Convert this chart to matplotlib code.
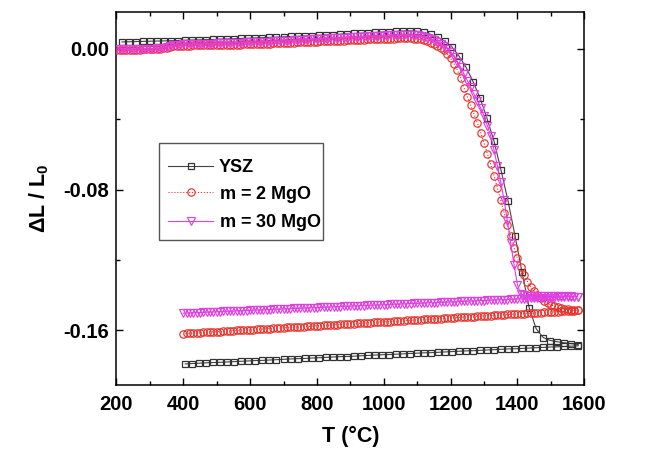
import numpy as np
import matplotlib
matplotlib.use("Agg")
import matplotlib.pyplot as plt
from matplotlib.patches import Rectangle
from matplotlib.ticker import MultipleLocator, FormatStrFormatter

plt.rcParams["font.family"] = ["Liberation Sans", "DejaVu Sans"]
plt.rcParams["font.weight"] = "bold"
plt.rcParams["mathtext.fontset"] = "custom"
plt.rcParams["mathtext.rm"] = "Liberation Sans:bold"
plt.rcParams["mathtext.bf"] = "Liberation Sans:bold"
plt.rcParams["mathtext.it"] = "Liberation Sans:bold:italic"
plt.rcParams["mathtext.default"] = "rm"

# ---------------- dilatometry data ----------------
series_labels = ["YSZ", r"$m$ = 2 MgO", r"$m$ = 30 MgO"]

# YSZ: one reading every 21 degC, heating to 1582 degC then cooling back
ysz_T_heat = np.arange(217, 1583, 21)
ysz_heat = [
    0.0040, 0.0041, 0.0042, 0.0043, 0.0044, 0.0045, 0.0046, 0.0047, 0.0048, 0.0050,
    0.0051, 0.0052, 0.0053, 0.0054, 0.0056, 0.0057, 0.0058, 0.0060, 0.0061, 0.0063,
    0.0064, 0.0066, 0.0067, 0.0069, 0.0071, 0.0072, 0.0074, 0.0076, 0.0078, 0.0080,
    0.0082, 0.0084, 0.0086, 0.0088, 0.0090, 0.0092, 0.0094, 0.0096, 0.0098, 0.0100,
    0.0102, 0.0103, 0.0101, 0.0094, 0.0083, 0.0066, 0.0043, 0.0012, -0.0040, -0.0103,
    -0.0185, -0.0278, -0.0395, -0.0525, -0.0690, -0.0865, -0.1065, -0.1270, -0.1470, -0.1590,
    -0.1640, -0.1657, -0.1664, -0.1670, -0.1675, -0.1680,
]
ysz_T_cool = np.arange(1582, 405, -21)
ysz_cool = [
    -0.1687, -0.1689, -0.1691, -0.1693, -0.1694, -0.1696, -0.1698, -0.1700, -0.1702, -0.1704,
    -0.1705, -0.1707, -0.1709, -0.1711, -0.1713, -0.1715, -0.1716, -0.1718, -0.1720, -0.1722,
    -0.1724, -0.1726, -0.1727, -0.1729, -0.1731, -0.1733, -0.1735, -0.1737, -0.1738, -0.1740,
    -0.1742, -0.1744, -0.1746, -0.1748, -0.1749, -0.1751, -0.1753, -0.1755, -0.1757, -0.1759,
    -0.1760, -0.1762, -0.1764, -0.1766, -0.1768, -0.1770, -0.1771, -0.1773, -0.1775, -0.1777,
    -0.1779, -0.1781, -0.1782, -0.1784, -0.1786, -0.1788, -0.1790,
]

# MgO-doped samples: one reading every 10 degC
mgo_T_heat = np.arange(200, 1581, 10)
mgo_T_cool = np.arange(1580, 399, -10)

m2_heat = [
    -0.0005, -0.0005, -0.0005, -0.0005, -0.0004, -0.0004, -0.0004, -0.0004, -0.0003, -0.0003,
    -0.0003, -0.0002, -0.0001, 0.0001, 0.0004, 0.0008, 0.0012, 0.0015, 0.0017, 0.0018,
    0.0019,
    0.0019, 0.0019, 0.0020, 0.0020, 0.0020, 0.0021, 0.0021, 0.0021, 0.0022, 0.0022,
    0.0022, 0.0023, 0.0023, 0.0024, 0.0024, 0.0025, 0.0025, 0.0026, 0.0026, 0.0027,
    0.0028, 0.0028, 0.0029, 0.0030, 0.0030, 0.0031, 0.0032, 0.0032, 0.0033, 0.0034,
    0.0035, 0.0036, 0.0036, 0.0037, 0.0038, 0.0039, 0.0040, 0.0040, 0.0041, 0.0042,
    0.0043, 0.0044, 0.0044, 0.0045, 0.0046, 0.0047, 0.0048, 0.0048, 0.0049, 0.0050,
    0.0051, 0.0052, 0.0052, 0.0053, 0.0054, 0.0055, 0.0056, 0.0056, 0.0057, 0.0058,
    0.0058, 0.0059, 0.0059, 0.0060, 0.0060, 0.0060, 0.0060, 0.0060, 0.0059, 0.0057,
    0.0054, 0.0050, 0.0044, 0.0036, 0.0026, 0.0016, 0.0005, -0.0008, -0.0028, -0.0053,
    -0.0083, -0.0119, -0.0165, -0.0220, -0.0272, -0.0320, -0.0370, -0.0420, -0.0475, -0.0535,
    -0.0595, -0.0655, -0.0720, -0.0790, -0.0860, -0.0930, -0.1000, -0.1065, -0.1130, -0.1190,
    -0.1240, -0.1285, -0.1322, -0.1352, -0.1378, -0.1400, -0.1418, -0.1432, -0.1444, -0.1454,
    -0.1462, -0.1468, -0.1473, -0.1477, -0.1480, -0.1483, -0.1485, -0.1486,
]
m2_cool = [
    -0.1486, -0.1487, -0.1488, -0.1489, -0.1490, -0.1492, -0.1493, -0.1494, -0.1495, -0.1496,
    -0.1497, -0.1498, -0.1499, -0.1501, -0.1502, -0.1503, -0.1504, -0.1505, -0.1506, -0.1507,
    -0.1508, -0.1509, -0.1511, -0.1512, -0.1513, -0.1514, -0.1515, -0.1516, -0.1517, -0.1518,
    -0.1520, -0.1521, -0.1522, -0.1523, -0.1524, -0.1525, -0.1526, -0.1527, -0.1529, -0.1530,
    -0.1531, -0.1532, -0.1533, -0.1534, -0.1535, -0.1536, -0.1537, -0.1539, -0.1540, -0.1541,
    -0.1542, -0.1543, -0.1544, -0.1545, -0.1546, -0.1548, -0.1549, -0.1550, -0.1551, -0.1552,
    -0.1553, -0.1554, -0.1555, -0.1556, -0.1558, -0.1559, -0.1560, -0.1561, -0.1562, -0.1563,
    -0.1564, -0.1565, -0.1567, -0.1568, -0.1569, -0.1570, -0.1571, -0.1572, -0.1573, -0.1574,
    -0.1576, -0.1577, -0.1578, -0.1579, -0.1580, -0.1581, -0.1582, -0.1583, -0.1585, -0.1586,
    -0.1587, -0.1588, -0.1589, -0.1590, -0.1591, -0.1592, -0.1593, -0.1595, -0.1596, -0.1597,
    -0.1598, -0.1599, -0.1600, -0.1601, -0.1602, -0.1604, -0.1605, -0.1606, -0.1607, -0.1608,
    -0.1609, -0.1610, -0.1611, -0.1613, -0.1614, -0.1615, -0.1616, -0.1617, -0.1618,
]

m30_heat = [
    0.0000, 0.0000, 0.0000, 0.0000, 0.0000, 0.0001, 0.0001, 0.0001, 0.0001, 0.0001,
    0.0002, 0.0002, 0.0003, 0.0005, 0.0008, 0.0012, 0.0016, 0.0020, 0.0023, 0.0025,
    0.0027,
    0.0027, 0.0028, 0.0028, 0.0029, 0.0029, 0.0030, 0.0030, 0.0031, 0.0031, 0.0032,
    0.0032, 0.0033, 0.0033, 0.0034, 0.0035, 0.0035, 0.0036, 0.0036, 0.0037, 0.0038,
    0.0039, 0.0039, 0.0040, 0.0041, 0.0042, 0.0042, 0.0043, 0.0044, 0.0045, 0.0046,
    0.0047, 0.0048, 0.0049, 0.0050, 0.0051, 0.0052, 0.0053, 0.0054, 0.0055, 0.0056,
    0.0057, 0.0058, 0.0059, 0.0060, 0.0061, 0.0062, 0.0063, 0.0064, 0.0065, 0.0066,
    0.0067, 0.0068, 0.0069, 0.0070, 0.0071, 0.0072, 0.0073, 0.0074, 0.0075, 0.0076,
    0.0077, 0.0078, 0.0079, 0.0079, 0.0080, 0.0080, 0.0080, 0.0080, 0.0079, 0.0077,
    0.0074, 0.0070, 0.0065, 0.0058, 0.0050, 0.0040, 0.0029, 0.0016, 0.0001, -0.0015,
    -0.0043, -0.0072, -0.0104, -0.0142, -0.0180, -0.0218, -0.0256, -0.0294, -0.0336, -0.0380,
    -0.0435, -0.0495, -0.0575, -0.0665, -0.0755, -0.0860, -0.0980, -0.1105, -0.1230, -0.1340,
    -0.1395, -0.1401, -0.1402, -0.1403, -0.1403, -0.1404, -0.1404, -0.1404, -0.1405, -0.1405,
    -0.1405, -0.1405, -0.1406, -0.1406, -0.1406, -0.1406, -0.1407, -0.1407,
]
m30_cool = [
    -0.1407, -0.1408, -0.1409, -0.1409, -0.1410, -0.1411, -0.1412, -0.1413, -0.1413, -0.1414,
    -0.1415, -0.1416, -0.1417, -0.1417, -0.1418, -0.1419, -0.1420, -0.1421, -0.1421, -0.1422,
    -0.1423, -0.1424, -0.1425, -0.1426, -0.1426, -0.1427, -0.1428, -0.1429, -0.1430, -0.1430,
    -0.1431, -0.1432, -0.1433, -0.1434, -0.1434, -0.1435, -0.1436, -0.1437, -0.1438, -0.1438,
    -0.1439, -0.1440, -0.1441, -0.1442, -0.1442, -0.1443, -0.1444, -0.1445, -0.1446, -0.1446,
    -0.1447, -0.1448, -0.1449, -0.1450, -0.1450, -0.1451, -0.1452, -0.1453, -0.1454, -0.1454,
    -0.1455, -0.1456, -0.1457, -0.1458, -0.1459, -0.1459, -0.1460, -0.1461, -0.1462, -0.1463,
    -0.1463, -0.1464, -0.1465, -0.1466, -0.1467, -0.1467, -0.1468, -0.1469, -0.1470, -0.1471,
    -0.1471, -0.1472, -0.1473, -0.1474, -0.1475, -0.1475, -0.1476, -0.1477, -0.1478, -0.1479,
    -0.1479, -0.1480, -0.1481, -0.1482, -0.1483, -0.1483, -0.1484, -0.1485, -0.1486, -0.1487,
    -0.1487, -0.1488, -0.1489, -0.1490, -0.1491, -0.1491, -0.1492, -0.1493, -0.1494, -0.1495,
    -0.1495, -0.1496, -0.1497, -0.1498, -0.1499, -0.1499, -0.1500, -0.1501, -0.1502,
]

x_ticks = [200, 400, 600, 800, 1000, 1200, 1400, 1600]
y_ticks = [0.00, -0.08, -0.16]

# ---------------- figure ----------------
fig = plt.figure(figsize=(6.54, 4.50), dpi=100)
ax = fig.add_axes([0.178, 0.1444, 0.7154, 0.8289])

def run(T_heat, v_heat, T_cool, v_cool):
    return (np.concatenate([T_heat, T_cool]),
            np.concatenate([np.asarray(v_heat), np.asarray(v_cool)]))

c_ysz, c_m2, c_m30 = "#333333", "#e8322c", "#e23ee2"

x, y = run(ysz_T_heat, ysz_heat, ysz_T_cool, ysz_cool)
ax.plot(x, y, ls="-", lw=0.8, color="#444444", marker="s", ms=4.8,
        mfc="none", mec=c_ysz, mew=0.9, label=series_labels[0], zorder=3)

x, y = run(mgo_T_heat, m2_heat, mgo_T_cool, m2_cool)
ax.plot(x, y, ls=":", lw=0.8, color=c_m2, marker="o", ms=5.3,
        mfc="none", mec=c_m2, mew=0.85, label=series_labels[1], zorder=4)

x, y = run(mgo_T_heat, m30_heat, mgo_T_cool, m30_cool)
ax.plot(x, y, ls="-", lw=0.8, color=c_m30, marker="v", ms=5.5,
        mfc="none", mec=c_m30, mew=0.85, label=series_labels[2], zorder=5)

ax.set_xlim(200, 1600)
ax.set_ylim(-0.191, 0.021)
ax.set_xticks(x_ticks)
ax.set_yticks(y_ticks)
ax.xaxis.set_minor_locator(MultipleLocator(100))
ax.yaxis.set_minor_locator(MultipleLocator(0.04))
ax.yaxis.set_major_formatter(FormatStrFormatter("%.2f"))

ax.tick_params(which="both", direction="in", top=True, right=True, width=1.0)
ax.tick_params(which="major", length=5, labelsize=14.5, pad=5)
ax.tick_params(which="minor", length=2.8)
ax.tick_params(axis="x", which="major", pad=7)
for lab in ax.get_xticklabels() + ax.get_yticklabels():
    lab.set_fontweight("bold")
for sp in ax.spines.values():
    sp.set_linewidth(1.1)

ax.set_xlabel("T (°C)", fontsize=15.5, fontweight="bold", labelpad=9)
ax.set_ylabel("ΔL / L$_0$", fontsize=15.5, fontweight="bold", labelpad=9)

# legend entries without their own frame; a plain box is drawn around them
leg = ax.legend(loc="upper left", bbox_to_anchor=(0.0794, 0.6434), borderaxespad=0,
                frameon=False, fontsize=13, handlelength=2.5,
                handletextpad=0.3, labelspacing=0.4, borderpad=0.8, numpoints=1)
for t in leg.get_texts():
    t.set_fontweight("bold")
ax.add_patch(Rectangle((0.0909, 0.3887), 0.3508, 0.2601, transform=ax.transAxes,
                       fill=True, facecolor="white", edgecolor="#555555",
                       linewidth=1.0, zorder=6))
leg.set_zorder(7)

fig.savefig("out.png", dpi=100)
